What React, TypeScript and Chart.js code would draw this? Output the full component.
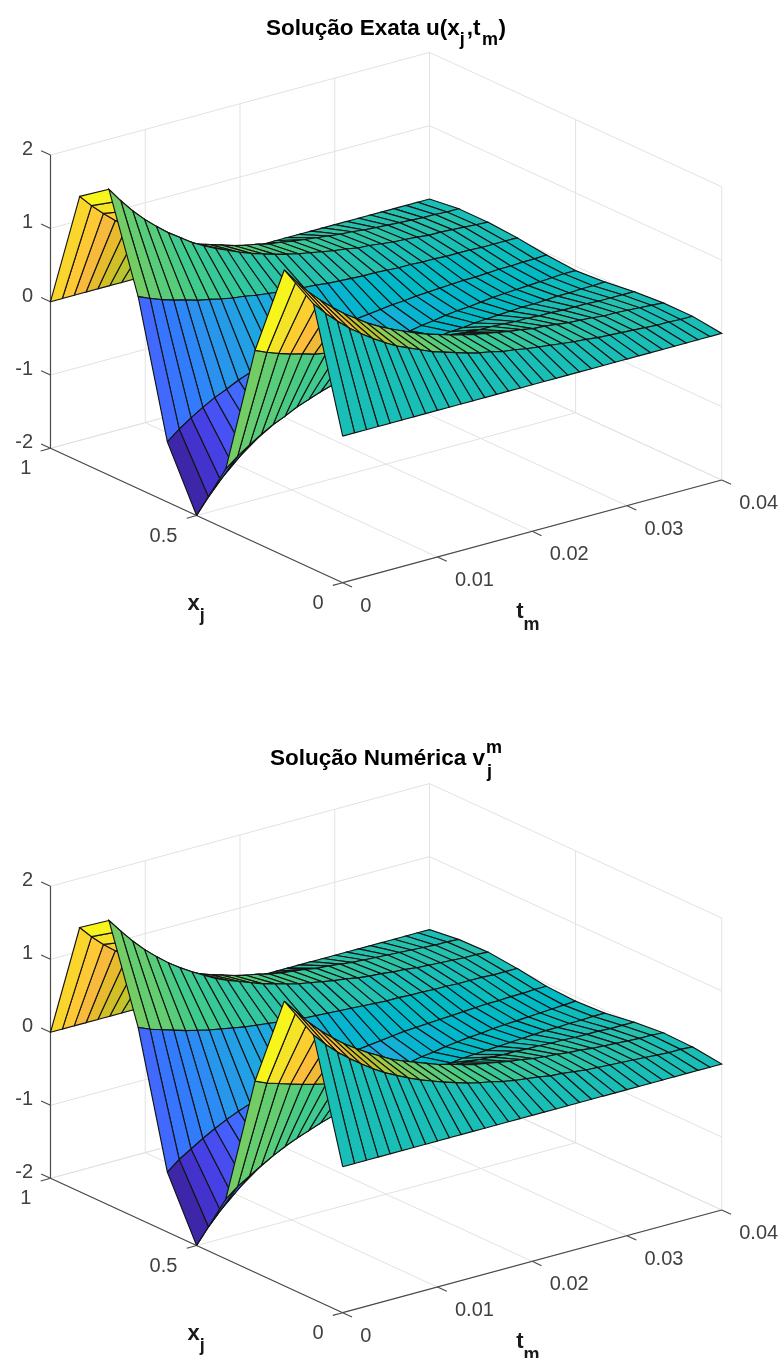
import React, { useEffect, useRef } from "react";
import { Chart, registerables } from "chart.js";
Chart.register(...registerables);

const xValues = [0, .1, .2, .3, .4, .5, .6, .7, .8, .9, 1];
const tValues = [0, .00125, .0025, .00375, .005, .00625, .0075, .00875, .01, .01125, .0125, .01375, .015, .01625, .0175, .01875, .02, .02125, .0225, .02375, .025, .02625, .0275, .02875, .03, .03125, .0325, .03375, .035, .03625, .0375, .03875, .04];
const zTicks = [-2, -1, 0, 1, 2];
const xTicks = [0, .5, 1];
const tTicks = [0, .01, .02, .03, .04];

const exactU = [
[0,1.62,1.90,.62,-1.18,-2,-1.18,.62,1.90,1.62,0],
[0,1.45,1.70,.55,-1.05,-1.79,-1.05,.55,1.70,1.45,0],
[0,1.30,1.52,.49,-.94,-1.60,-.94,.49,1.52,1.30,0],
[0,1.16,1.36,.44,-.84,-1.43,-.84,.44,1.36,1.16,0],
[0,1.04,1.22,.40,-.75,-1.28,-.75,.40,1.22,1.04,0],
[0,.93,1.09,.35,-.68,-1.15,-.68,.35,1.09,.93,0],
[0,.83,.98,.32,-.60,-1.03,-.60,.32,.98,.83,0],
[0,.74,.87,.28,-.54,-.92,-.54,.28,.87,.74,0],
[0,.67,.78,.25,-.48,-.82,-.48,.25,.78,.67,0],
[0,.60,.70,.23,-.43,-.74,-.43,.23,.70,.60,0],
[0,.53,.63,.20,-.39,-.66,-.39,.20,.63,.53,0],
[0,.48,.56,.18,-.35,-.59,-.35,.18,.56,.48,0],
[0,.43,.50,.16,-.31,-.53,-.31,.16,.50,.43,0],
[0,.38,.45,.15,-.28,-.47,-.28,.15,.45,.38,0],
[0,.34,.40,.13,-.25,-.42,-.25,.13,.40,.34,0],
[0,.31,.36,.12,-.22,-.38,-.22,.12,.36,.31,0],
[0,.27,.32,.10,-.20,-.34,-.20,.10,.32,.27,0],
[0,.25,.29,.09,-.18,-.30,-.18,.09,.29,.25,0],
[0,.22,.26,.08,-.16,-.27,-.16,.08,.26,.22,0],
[0,.20,.23,.07,-.14,-.24,-.14,.07,.23,.20,0],
[0,.18,.21,.07,-.13,-.22,-.13,.07,.21,.18,0],
[0,.16,.18,.06,-.11,-.19,-.11,.06,.18,.16,0],
[0,.14,.17,.05,-.10,-.17,-.10,.05,.17,.14,0],
[0,.13,.15,.05,-.09,-.16,-.09,.05,.15,.13,0],
[0,.11,.13,.04,-.08,-.14,-.08,.04,.13,.11,0],
[0,.10,.12,.04,-.07,-.12,-.07,.04,.12,.10,0],
[0,.09,.11,.03,-.07,-.11,-.07,.03,.11,.09,0],
[0,.08,.09,.03,-.06,-.10,-.06,.03,.09,.08,0],
[0,.07,.09,.03,-.05,-.09,-.05,.03,.09,.07,0],
[0,.06,.08,.02,-.05,-.08,-.05,.02,.08,.06,0],
[0,.06,.07,.02,-.04,-.07,-.04,.02,.07,.06,0],
[0,.05,.06,.02,-.04,-.06,-.04,.02,.06,.05,0],
[0,.05,.05,.02,-.03,-.06,-.03,.02,.05,.05,0],
];

const numericV = [
[0,1.62,1.90,.62,-1.18,-2,-1.18,.62,1.90,1.62,0],
[0,1.45,1.71,.55,-1.05,-1.79,-1.05,.55,1.71,1.45,0],
[0,1.30,1.53,.50,-.95,-1.61,-.95,.50,1.53,1.30,0],
[0,1.17,1.37,.45,-.85,-1.44,-.85,.45,1.37,1.17,0],
[0,1.05,1.23,.40,-.76,-1.29,-.76,.40,1.23,1.05,0],
[0,.94,1.10,.36,-.68,-1.16,-.68,.36,1.10,.94,0],
[0,.84,.99,.32,-.61,-1.04,-.61,.32,.99,.84,0],
[0,.76,.89,.29,-.55,-.93,-.55,.29,.89,.76,0],
[0,.68,.80,.26,-.49,-.84,-.49,.26,.80,.68,0],
[0,.61,.71,.23,-.44,-.75,-.44,.23,.71,.61,0],
[0,.55,.64,.21,-.40,-.67,-.40,.21,.64,.55,0],
[0,.49,.58,.19,-.36,-.61,-.36,.19,.58,.49,0],
[0,.44,.52,.17,-.32,-.54,-.32,.17,.52,.44,0],
[0,.39,.46,.15,-.29,-.49,-.29,.15,.46,.39,0],
[0,.35,.42,.13,-.26,-.44,-.26,.13,.42,.35,0],
[0,.32,.37,.12,-.23,-.39,-.23,.12,.37,.32,0],
[0,.28,.33,.11,-.21,-.35,-.21,.11,.33,.28,0],
[0,.25,.30,.10,-.19,-.32,-.19,.10,.30,.25,0],
[0,.23,.27,.09,-.17,-.28,-.17,.09,.27,.23,0],
[0,.21,.24,.08,-.15,-.25,-.15,.08,.24,.21,0],
[0,.18,.22,.07,-.13,-.23,-.13,.07,.22,.18,0],
[0,.17,.19,.06,-.12,-.20,-.12,.06,.19,.17,0],
[0,.15,.17,.06,-.11,-.18,-.11,.06,.17,.15,0],
[0,.13,.16,.05,-.10,-.16,-.10,.05,.16,.13,0],
[0,.12,.14,.05,-.09,-.15,-.09,.05,.14,.12,0],
[0,.11,.13,.04,-.08,-.13,-.08,.04,.13,.11,0],
[0,.10,.11,.04,-.07,-.12,-.07,.04,.11,.10,0],
[0,.09,.10,.03,-.06,-.11,-.06,.03,.10,.09,0],
[0,.08,.09,.03,-.06,-.10,-.06,.03,.09,.08,0],
[0,.07,.08,.03,-.05,-.09,-.05,.03,.08,.07,0],
[0,.06,.07,.02,-.05,-.08,-.05,.02,.07,.06,0],
[0,.06,.07,.02,-.04,-.07,-.04,.02,.07,.06,0],
[0,.05,.06,.02,-.04,-.06,-.04,.02,.06,.05,0],
];

const parula = [
[.2422,.1504,.6603],[.2504,.1650,.7076],[.2578,.1818,.7511],[.2647,.1978,.7952],[.2706,.2147,.8364],[.2751,.2342,.8710],[.2783,.2559,.8991],[.2803,.2782,.9221],
[.2813,.3006,.9414],[.2810,.3228,.9579],[.2795,.3447,.9717],[.2760,.3667,.9829],[.2699,.3892,.9906],[.2602,.4123,.9952],[.2440,.4358,.9988],[.2206,.4603,.9973],
[.1963,.4847,.9892],[.1834,.5074,.9798],[.1786,.5289,.9682],[.1764,.5499,.9520],[.1687,.5703,.9359],[.1540,.5902,.9218],[.1460,.6091,.9079],[.1380,.6276,.8973],
[.1248,.6459,.8883],[.1113,.6635,.8763],[.0952,.6798,.8598],[.0689,.6948,.8394],[.0297,.7082,.8163],[.0036,.7203,.7917],[.0067,.7312,.7660],[.0433,.7411,.7394],
[.0964,.7500,.7120],[.1408,.7584,.6842],[.1717,.7670,.6554],[.1938,.7758,.6251],[.2161,.7843,.5923],[.2470,.7918,.5567],[.2906,.7973,.5188],[.3406,.8008,.4789],
[.3909,.8029,.4354],[.4456,.8024,.3909],[.5044,.7993,.3480],[.5616,.7942,.3045],[.6174,.7876,.2612],[.6720,.7793,.2227],[.7242,.7698,.1910],[.7738,.7598,.1646],
[.8203,.7498,.1535],[.8634,.7406,.1596],[.9035,.7330,.1774],[.9393,.7288,.2100],[.9728,.7298,.2394],[.9956,.7434,.2371],[.9970,.7659,.2199],[.9952,.7893,.2028],
[.9892,.8136,.1885],[.9786,.8386,.1766],[.9676,.8639,.1643],[.9610,.8890,.1537],[.9597,.9135,.1423],[.9628,.9373,.1265],[.9691,.9606,.1064],[.9769,.9839,.0805],
];

type Run = { text: string; size: number; dy?: number; dx?: number; hold?: boolean };
type View = { ox: number; oy: number; xv: number[]; tv: number[]; zs: number };

const H = 679;
const FONT = '"Liberation Sans", Arial, sans-serif';

const colorOf = (z: number) => {
  const i = Math.max(0, Math.min(63, Math.floor(((z + 2) / 4) * 64)));
  const c = parula[i];
  return `rgb(${Math.round(c[0] * 255)},${Math.round(c[1] * 255)},${Math.round(c[2] * 255)})`;
};

const project = (v: View, x: number, t: number, z: number) => ({
  x: v.ox + x * v.xv[0] + (t / 0.04) * v.tv[0],
  y: v.oy + x * v.xv[1] + (t / 0.04) * v.tv[1] - (z + 2) * v.zs,
});

const lineSet = (pts: { x: number; y: number }[], color: string, width: number) => ({
  data: pts,
  showLine: true,
  pointRadius: 0,
  borderColor: color,
  borderWidth: width,
  fill: false,
  tension: 0,
  clip: false as const,
});

function buildDatasets(v: View, u: number[][]) {
  const sets: any[] = [];
  const axisC = "#4a4a4a";
  // chart.js paints the last dataset first: nearest things go first in the list
  for (let m = 0; m < tValues.length - 1; m++) {
    for (let j = 0; j < xValues.length - 1; j++) {
      const pts = [
        project(v, xValues[j], tValues[m], u[m][j]),
        project(v, xValues[j + 1], tValues[m], u[m][j + 1]),
        project(v, xValues[j + 1], tValues[m + 1], u[m + 1][j + 1]),
        project(v, xValues[j], tValues[m + 1], u[m + 1][j]),
      ];
      pts.push(pts[0]);
      sets.push({
        data: pts,
        showLine: true,
        pointRadius: 0,
        borderColor: "#141414",
        borderWidth: 1.15,
        backgroundColor: colorOf(u[m][j]),
        fill: "shape",
        tension: 0,
        clip: false,
      });
    }
  }
  const tMax = tTicks[tTicks.length - 1];
  const xMax = xTicks[xTicks.length - 1];
  const zMin = zTicks[0];
  const zMax = zTicks[zTicks.length - 1];
  // axes and tick marks
  sets.push(lineSet([project(v, xMax, 0, zMin), project(v, xMax, 0, zMax)], axisC, 1.2));
  sets.push(lineSet([project(v, 0, 0, zMin), project(v, xMax, 0, zMin)], axisC, 1.2));
  sets.push(lineSet([project(v, 0, 0, zMin), project(v, 0, tMax, zMin)], axisC, 1.2));
  for (const z of zTicks) sets.push(lineSet([project(v, xMax, 0, z), project(v, xMax * 1.032, 0, z)], axisC, 1.1));
  for (const x of xTicks) sets.push(lineSet([project(v, x, 0, zMin), project(v, x, -tMax * 0.026, zMin)], axisC, 1.1));
  for (const t of tTicks) sets.push(lineSet([project(v, 0, t, zMin), project(v, -xMax * 0.032, t, zMin)], axisC, 1.1));
  // grid on the back walls and the floor
  const g = "#e2e2e2";
  for (const z of zTicks) {
    sets.push(lineSet([project(v, xMax, 0, z), project(v, xMax, tMax, z), project(v, 0, tMax, z)], g, 1));
  }
  for (const x of xTicks) {
    sets.push(lineSet([project(v, x, 0, zMin), project(v, x, tMax, zMin), project(v, x, tMax, zMax)], g, 1));
  }
  for (const t of tTicks) {
    sets.push(lineSet([project(v, 0, t, zMin), project(v, xMax, t, zMin), project(v, xMax, t, zMax)], g, 1));
  }
  return sets;
}

function drawRuns(ctx: CanvasRenderingContext2D, runs: Run[], x: number, y: number, color: string) {
  ctx.fillStyle = color;
  ctx.textAlign = "left";
  ctx.textBaseline = "alphabetic";
  let cx = x;
  for (const r of runs) {
    ctx.font = `bold ${r.size}px ${FONT}`;
    cx += r.dx || 0;
    ctx.fillText(r.text, cx, y + (r.dy || 0));
    if (!r.hold) cx += ctx.measureText(r.text).width;
  }
}

const labelPlugin = (v: View, title: Run[], titleX: number, titleY: number) => ({
  id: "labels3d",
  afterDatasetsDraw(chart: any) {
    const ctx = chart.ctx as CanvasRenderingContext2D;
    const sx = (p: { x: number; y: number }) => ({ x: chart.scales.x.getPixelForValue(p.x), y: chart.scales.y.getPixelForValue(p.y) });
    ctx.save();
    ctx.fillStyle = "#404040";
    ctx.font = `20px ${FONT}`;
    ctx.textBaseline = "middle";
    ctx.textAlign = "right";
    for (const z of zTicks) {
      const p = sx(project(v, 1, 0, z));
      ctx.fillText(String(z), p.x - 17.5, p.y - 5.5);
    }
    for (const x of xTicks) {
      const p = sx(project(v, x, 0, -2));
      ctx.fillText(String(x), p.x - 19.2, p.y + 20.5);
    }
    ctx.textAlign = "left";
    for (const t of tTicks) {
      const p = sx(project(v, 0, t, -2));
      ctx.fillText(String(t), p.x + 17.5, p.y + 23.5);
    }
    const xl = sx(project(v, 0.5, 0, -2));
    drawRuns(ctx, [{ text: "x", size: 22 }, { text: "j", size: 18, dy: 11 }], xl.x - 9, xl.y + 94, "#1a1a1a");
    const tl = sx(project(v, 0, 0.02, -2));
    drawRuns(ctx, [{ text: "t", size: 22 }, { text: "m", size: 18, dy: 12 }], tl.x - 16, tl.y + 86.5, "#1a1a1a");
    drawRuns(ctx, title, titleX, titleY, "#000000");
    ctx.restore();
  },
});

function Surface({ u, view, title, titleX, titleY }: { u: number[][]; view: View; title: Run[]; titleX: number; titleY: number }) {
  const ref = useRef<HTMLCanvasElement>(null);
  useEffect(() => {
    const chart = new Chart(ref.current!, {
      type: "scatter",
      data: { datasets: buildDatasets(view, u) },
      options: {
        animation: false,
        responsive: false,
        devicePixelRatio: 1,
        events: [],
        layout: { padding: 0 },
        scales: {
          x: { type: "linear", display: false, min: 0, max: 784 },
          y: { type: "linear", display: false, min: 0, max: H, reverse: true },
        },
        plugins: { legend: { display: false }, tooltip: { enabled: false }, title: { display: false } },
      },
      plugins: [labelPlugin(view, title, titleX, titleY)],
    } as any);
    return () => chart.destroy();
  }, []);
  return <canvas ref={ref} width={784} height={H} style={{ display: "block", width: 784, height: H }} />;
}

const topView: View = { ox: 342.7, oy: 582.7, xv: [-292.2, -134.4], tv: [379, -102.7], zs: 73.3 };
const bottomView: View = { ox: 342.7, oy: 633.7, xv: [-292.2, -134.4], tv: [379, -102.7], zs: 73.0 };

const topTitle: Run[] = [
  { text: "Solução Exata u(x", size: 22.5 },
  { text: "j", size: 18, dy: 10 },
  { text: ",t", size: 22.5, dx: 2 },
  { text: "m", size: 18, dy: 10, dx: 1.5 },
  { text: ")", size: 22.5, dx: 0.5 },
];
const bottomTitle: Run[] = [
  { text: "Solução Numérica v", size: 22.5 },
  { text: "m", size: 18, dy: -12, dx: 1, hold: true },
  { text: "j", size: 18, dy: 12, dx: 1 },
];

export default function App() {
  return (
    <div style={{ position: "absolute", left: 0, top: 0, width: 784, height: 1358, background: "#fff" }}>
      <Surface u={exactU} view={topView} title={topTitle} titleX={266} titleY={35} />
      <Surface u={numericV} view={bottomView} title={bottomTitle} titleX={270} titleY={86} />
    </div>
  );
}
